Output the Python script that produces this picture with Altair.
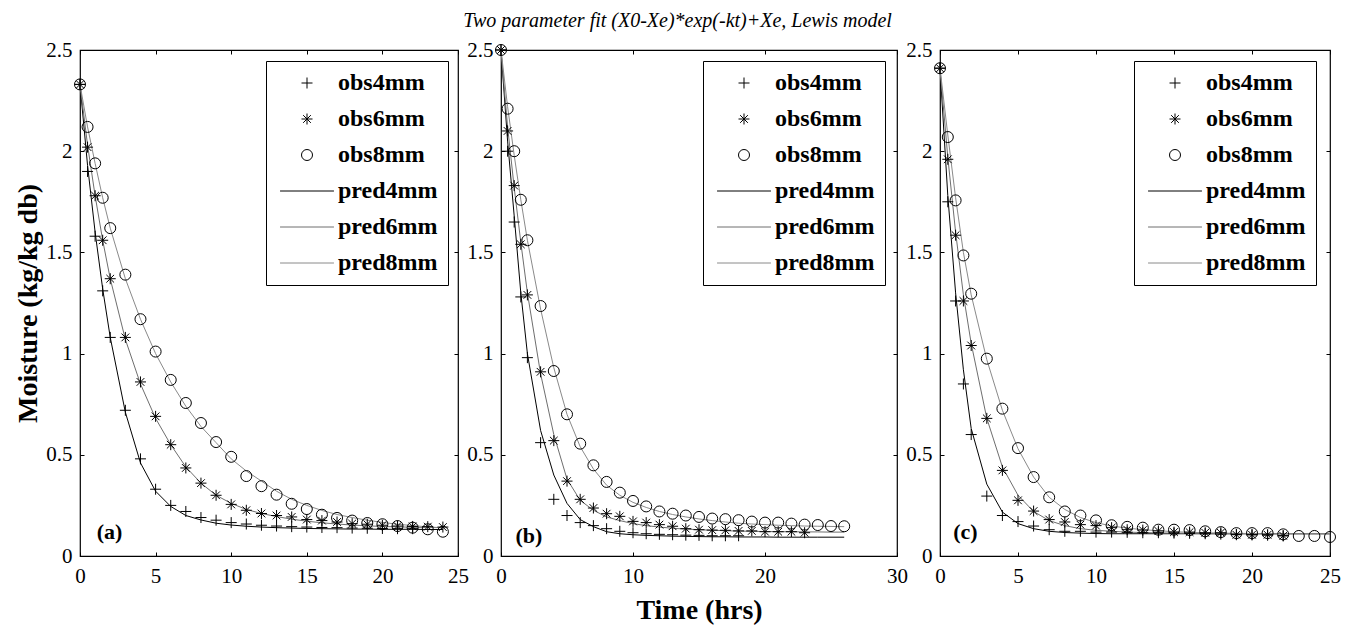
import altair as alt
import pandas as pd

TITLE = "Two parameter fit (X0-Xe)*exp(-kt)+Xe, Lewis model"
SERIES = ["obs4mm", "obs6mm", "obs8mm", "pred4mm", "pred6mm", "pred8mm"]
COLORS = ["#000000", "#000000", "#000000", "#000000", "#6e6e6e", "#8a8a8a"]
WIDTHS = [1, 1, 1, 1.4, 1, 1]
PLUS = "M-1,0L1,0M0,-1L0,1"
STAR = "M-1,0L1,0M0,-1L0,1M-0.7,-0.7L0.7,0.7M-0.7,0.7L0.7,-0.7"
LINE = "M-4.9,0L4.9,0"
SHAPES = [PLUS, STAR, "circle", LINE, LINE, LINE]
Y_TICKS = [0, 0.5, 1, 1.5, 2, 2.5]

# ---------------- panel (a) ----------------
T_A = [0, 0.5, 1, 1.5, 2, 3, 4, 5, 6, 7, 8, 9, 10, 11, 12, 13, 14, 15, 16, 17, 18, 19, 20, 21, 22, 23, 24]
OBS4_A = [2.33, 1.90, 1.58, 1.31, 1.08, 0.72, 0.48, 0.33, 0.25, 0.22, 0.19, 0.177, 0.165, 0.158, 0.152,
          0.148, 0.145, 0.143, 0.141, 0.14, 0.138, 0.137, 0.136, 0.135, 0.135]
OBS6_A = [2.33, 2.02, 1.78, 1.56, 1.37, 1.08, 0.86, 0.69, 0.55, 0.435, 0.36, 0.30, 0.255, 0.226, 0.21,
          0.2, 0.193, 0.18, 0.175, 0.168, 0.16, 0.157, 0.152, 0.148, 0.146, 0.145, 0.143]
OBS8_A = [2.33, 2.12, 1.94, 1.77, 1.62, 1.39, 1.17, 1.01, 0.87, 0.756, 0.657, 0.563, 0.49, 0.395, 0.345,
          0.303, 0.258, 0.232, 0.204, 0.188, 0.175, 0.163, 0.157, 0.148, 0.14, 0.132, 0.12]
PRED4_A = [2.33, 1.93, 1.60, 1.32, 1.08, 0.71, 0.46, 0.32, 0.245, 0.20, 0.178, 0.162, 0.153, 0.147, 0.143,
           0.14, 0.138, 0.136, 0.135, 0.134, 0.133, 0.133, 0.132, 0.132, 0.132, 0.131, 0.131]
PRED6_A = [2.33, 2.03, 1.78, 1.56, 1.37, 1.07, 0.85, 0.68, 0.55, 0.44, 0.36, 0.30, 0.26, 0.23, 0.21,
           0.195, 0.182, 0.172, 0.164, 0.158, 0.153, 0.149, 0.146, 0.144, 0.142, 0.141, 0.14]
PRED8_A = [2.33, 2.12, 1.94, 1.77, 1.62, 1.37, 1.17, 1.00, 0.86, 0.74, 0.64, 0.56, 0.48, 0.42, 0.37,
           0.32, 0.28, 0.25, 0.225, 0.205, 0.19, 0.177, 0.166, 0.157, 0.15, 0.144, 0.139]

# ---------------- panel (b) ----------------
T_B = [0, 0.5, 1, 1.5, 2, 3, 4, 5, 6, 7, 8, 9, 10, 11, 12, 13, 14, 15, 16, 17, 18, 19, 20, 21, 22, 23, 24, 25, 26]
OBS4_B = [2.5, 2.0, 1.65, 1.28, 0.98, 0.56, 0.28, 0.20, 0.165, 0.15, 0.135, 0.122, 0.115, 0.11, 0.107,
          0.105, 0.103, 0.102, 0.1, 0.1, 0.1]
OBS6_B = [2.5, 2.10, 1.83, 1.54, 1.29, 0.91, 0.57, 0.37, 0.28, 0.237, 0.209, 0.196, 0.171, 0.165, 0.155,
          0.147, 0.135, 0.13, 0.128, 0.127, 0.124, 0.124, 0.12, 0.12, 0.12, 0.115]
OBS8_B = [2.5, 2.21, 2.0, 1.76, 1.56, 1.235, 0.914, 0.70, 0.555, 0.448, 0.366, 0.313, 0.272, 0.245, 0.22,
          0.209, 0.2, 0.193, 0.185, 0.182, 0.177, 0.17, 0.165, 0.165, 0.16, 0.155, 0.153, 0.148, 0.147]
PRED4_B = [2.5, 2.05, 1.68, 1.30, 1.00, 0.62, 0.40, 0.26, 0.18, 0.145, 0.12, 0.11, 0.105, 0.102, 0.1,
           0.098, 0.097, 0.096, 0.095, 0.095, 0.094, 0.094, 0.094, 0.093, 0.093, 0.093, 0.093, 0.093, 0.093]
PRED6_B = [2.5, 2.12, 1.82, 1.55, 1.30, 0.90, 0.60, 0.38, 0.275, 0.226, 0.193, 0.175, 0.16, 0.15, 0.143,
           0.137, 0.133, 0.13, 0.127, 0.125, 0.123, 0.122, 0.121, 0.12, 0.12, 0.119, 0.119, 0.118, 0.118]
PRED8_B = [2.5, 2.22, 1.98, 1.76, 1.56, 1.22, 0.93, 0.70, 0.54, 0.43, 0.35, 0.30, 0.265, 0.24, 0.22,
           0.205, 0.193, 0.183, 0.175, 0.168, 0.162, 0.158, 0.155, 0.152, 0.15, 0.148, 0.147, 0.146, 0.145]

# ---------------- panel (c) ----------------
T_C = [0, 0.5, 1, 1.5, 2, 3, 4, 5, 6, 7, 8, 9, 10, 11, 12, 13, 14, 15, 16, 17, 18, 19, 20, 21, 22, 23, 24, 25]
OBS4_C = [2.41, 1.75, 1.26, 0.85, 0.60, 0.296, 0.20, 0.17, 0.148, 0.13, 0.122, 0.122, 0.118, 0.118, 0.117,
          0.115, 0.115, 0.113, 0.112, 0.11, 0.108, 0.107, 0.105, 0.103, 0.10]
OBS6_C = [2.41, 1.96, 1.585, 1.26, 1.04, 0.68, 0.423, 0.275, 0.222, 0.18, 0.168, 0.155, 0.15, 0.14, 0.13,
          0.128, 0.124, 0.118, 0.118, 0.115, 0.115, 0.105, 0.105, 0.105, 0.10]
OBS8_C = [2.41, 2.07, 1.757, 1.485, 1.296, 0.975, 0.728, 0.533, 0.39, 0.29, 0.22, 0.2, 0.176, 0.152, 0.144,
          0.14, 0.13, 0.13, 0.128, 0.122, 0.118, 0.113, 0.113, 0.113, 0.107, 0.099, 0.099, 0.094]
PRED4_C = [2.41, 1.78, 1.30, 0.92, 0.63, 0.355, 0.217, 0.16, 0.135, 0.122, 0.116, 0.113, 0.111, 0.11, 0.11,
           0.11, 0.11, 0.11, 0.11, 0.11, 0.11, 0.11, 0.11, 0.11, 0.11, 0.11, 0.11, 0.11]
PRED6_C = [2.41, 1.97, 1.60, 1.29, 1.05, 0.68, 0.44, 0.30, 0.22, 0.175, 0.15, 0.135, 0.127, 0.122, 0.118,
           0.116, 0.114, 0.113, 0.112, 0.111, 0.11, 0.11, 0.11, 0.11, 0.11, 0.11, 0.11, 0.11]
PRED8_C = [2.41, 2.08, 1.77, 1.50, 1.29, 0.97, 0.72, 0.53, 0.39, 0.29, 0.23, 0.19, 0.165, 0.148, 0.138,
           0.13, 0.125, 0.12, 0.117, 0.115, 0.113, 0.112, 0.111, 0.11, 0.11, 0.11, 0.11, 0.11]

TAGS = ["(a)", "(b)", "(c)"]
TAG_T = [1.1, 1.1, 0.85]
TAG_V = [0.12, 0.10, 0.12]

FONT = "Liberation Serif"


def long_df(times, named):
    rows = []
    for name, vals in named:
        for t, v in zip(times, vals):
            rows.append({"t": t, "v": v, "series": name})
    return pd.DataFrame(rows)


def panel(i, times, obs, pred, xmax, xticks, width, legend_x, xtitle, ytitle):
    df_obs = long_df(times, list(zip(SERIES[:3], obs)))
    df_pred = long_df(times, list(zip(SERIES[3:], pred)))
    df_tag = pd.DataFrame({"t": [TAG_T[i]], "v": [TAG_V[i]], "label": [TAGS[i]]})

    xscale = alt.Scale(domain=[0, xmax], nice=False, zero=False)
    yscale = alt.Scale(domain=[0, 2.5], nice=False)

    legend = alt.Legend(
        orient="none", legendX=legend_x, legendY=11, title=None,
        strokeColor="black", fillColor="white", padding=10, rowPadding=12,
        labelFont=FONT, labelFontSize=24, labelFontWeight="bold", labelColor="black",
        symbolSize=121, symbolStrokeWidth=1, symbolOffset=19, labelOffset=19,
        cornerRadius=0,
    )
    color = alt.Color("series:N", scale=alt.Scale(domain=SERIES, range=COLORS), legend=legend)

    ax_common = dict(domain=False, grid=False, tickSize=4, offset=-4, tickColor="black",
                     tickWidth=1, labelFont=FONT, labelFontSize=21, labelColor="black")
    bottom = alt.Axis(orient="bottom", values=xticks, format="d", labelPadding=9,
                      labelFlush=False, labelOverlap=False,
                      titleFont=FONT, titleFontSize=28, titleFontWeight="bold",
                      titleColor="black", titlePadding=10, **ax_common)
    left = alt.Axis(orient="left", values=Y_TICKS, format="~g", labelPadding=8,
                    labelFlush=False, labelOverlap=False,
                    titleFont=FONT, titleFontSize=28, titleFontWeight="bold",
                    titleColor="black", titlePadding=3, **ax_common)
    top = alt.Axis(orient="top", values=xticks, labels=False, **ax_common)
    right = alt.Axis(orient="right", values=Y_TICKS, labels=False, **ax_common)

    lines = alt.Chart(df_pred).mark_line(clip=False).encode(
        x=alt.X("t:Q", scale=xscale, axis=top, title=None),
        y=alt.Y("v:Q", scale=yscale, axis=right, title=None),
        color=color,
        strokeWidth=alt.StrokeWidth("series:N", scale=alt.Scale(domain=SERIES, range=WIDTHS), legend=None),
        order=alt.Order("t:Q"),
    )
    pts = alt.Chart(df_obs).mark_point(filled=False, size=121, strokeWidth=1, opacity=1).encode(
        x=alt.X("t:Q", scale=xscale, axis=bottom, title=xtitle),
        y=alt.Y("v:Q", scale=yscale, axis=left, title=ytitle),
        color=color,
        shape=alt.Shape("series:N", scale=alt.Scale(domain=SERIES, range=SHAPES), legend=legend),
    )
    tag = alt.Chart(df_tag).mark_text(align="left", baseline="middle", font=FONT, fontSize=22,
                                      fontWeight="bold", color="black").encode(
        x=alt.X("t:Q", scale=xscale, axis=None),
        y=alt.Y("v:Q", scale=yscale, axis=None),
        text="label:N",
    )
    return alt.layer(lines, pts, tag).resolve_axis(x="independent", y="independent").properties(
        width=width, height=506)


pa = panel(0, T_A, [OBS4_A, OBS6_A, OBS8_A], [PRED4_A, PRED6_A, PRED8_A], 25,
           [0, 5, 10, 15, 20, 25], 378, 186, None, "Moisture (kg/kg db)")
pb = panel(1, T_B, [OBS4_B, OBS6_B, OBS8_B], [PRED4_B, PRED6_B, PRED8_B], 30,
           [0, 10, 20, 30], 396, 202, "Time (hrs)", None)
pc = panel(2, T_C, [OBS4_C, OBS6_C, OBS8_C], [PRED4_C, PRED6_C, PRED8_C], 25,
           [0, 5, 10, 15, 20, 25], 390, 194, None, None)

chart = alt.hconcat(pa, pb, pc, spacing=43, bounds="flush").resolve_scale(
    x="independent", y="independent", color="independent", shape="independent",
    strokeWidth="independent",
).properties(
    title=alt.TitleParams(TITLE, font=FONT, fontSize=20, fontStyle="italic", fontWeight="normal",
                          color="black", anchor="middle", offset=7),
    padding={"left": 14, "top": 11, "right": 6, "bottom": 4},
    background="white",
).configure_view(stroke="black", strokeWidth=1.2)

chart.save("out.html", embed_options={"renderer": "svg", "actions": False})
